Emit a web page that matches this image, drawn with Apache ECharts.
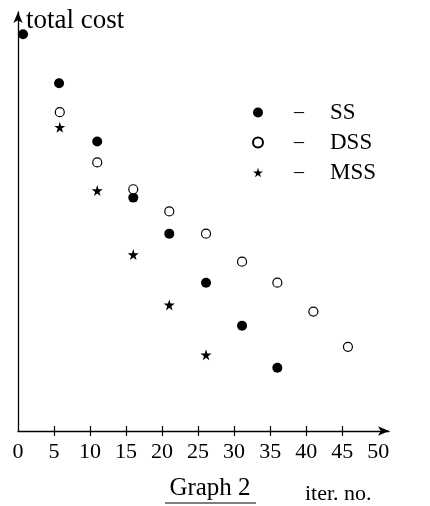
<!DOCTYPE html>
<html>
<head>
<meta charset="utf-8">
<script src="https://cdn.jsdelivr.net/npm/echarts@6/dist/echarts.min.js"></script>
<style>
    html, body {margin: 0; padding: 0; background: #fff;}
    #main1 {width: 430px; height: 506px;}
</style>
</head>
<body>
<div id="main1"></div>
<script>
    // values (cost has no scale, 0..100 along the axis)
    var ssIter = [0.7, 5.7, 11, 16, 21, 26.1, 31.1, 36];
    var ssCost = [94.7, 83.0, 69.1, 55.7, 47.1, 35.4, 25.1, 15.1];
    var dssIter = [5.8, 11, 16, 21, 26.1, 31.1, 36, 41, 45.8];
    var dssCost = [76.1, 64.1, 57.7, 52.4, 47.1, 40.4, 35.4, 28.5, 20.1];
    var mssIter = [5.8, 11, 16, 21, 26.1];
    var mssCost = [72.5, 57.4, 42.1, 30.1, 18.2];
    var xLabels = [0, 5, 10, 15, 20, 25, 30, 35, 40, 45, 50];
    var xTicks = [5, 10, 15, 20, 25, 30, 35, 40, 45];

    var font = '"Liberation Serif", "DejaVu Serif", serif';
    var star = 'path://M50,0 L61,35 L98,35 L68,57 L79,91 L50,70 L21,91 L32,57 L2,35 L39,35 Z';

    function pairs(xs, ys) {
        var out = [];
        for (var i = 0; i < xs.length; i++) {
            out.push([xs[i], ys[i]]);
        }
        return out;
    }

    var myChart = echarts.init(document.getElementById('main1'));

    var option = {
        animation: false,
        grid: {left: 18, right: 41, top: 12, bottom: 75},
        legend: {
            orient: 'vertical',
            left: 247,
            top: 96,
            itemWidth: 10,
            itemHeight: 10,
            itemGap: 7,
            itemTextGap: 5,
            selectedMode: false,
            data: ['SS', 'DSS', 'MSS'],
            formatter: '{d|–}{n|{name}}',
            textStyle: {
                fontFamily: font,
                fontSize: 22,
                color: '#000',
                lineHeight: 20,
                rich: {
                    d: {width: 62, align: 'center', fontFamily: font, fontSize: 20, lineHeight: 20, color: '#000'},
                    n: {fontFamily: font, fontSize: 23, lineHeight: 20, color: '#000'}
                }
            }
        },
        xAxis: [
            {
                type: 'value',
                min: 0,
                max: 51.5,
                interval: 5,
                axisLine: {
                    show: true,
                    symbol: ['none', 'arrow'],
                    symbolSize: [7, 11],
                    lineStyle: {color: '#000', width: 1.3}
                },
                axisTick: {
                    show: true,
                    length: 5,
                    customValues: xTicks,
                    lineStyle: {color: '#000', width: 1.2}
                },
                axisLabel: {
                    show: true,
                    customValues: xLabels,
                    margin: 10,
                    color: '#000',
                    fontFamily: font,
                    fontSize: 22
                },
                splitLine: {show: false}
            },
            {
                type: 'value',
                position: 'bottom',
                min: 0,
                max: 51.5,
                interval: 5,
                axisLine: {show: false},
                axisTick: {
                    show: true,
                    inside: true,
                    length: 5,
                    customValues: xTicks,
                    lineStyle: {color: '#000', width: 1.2}
                },
                axisLabel: {show: false},
                splitLine: {show: false}
            }
        ],
        yAxis: {
            type: 'value',
            min: 0,
            max: 100,
            axisLine: {
                show: true,
                symbol: ['none', 'arrow'],
                symbolSize: [7, 11],
                lineStyle: {color: '#000', width: 1.3}
            },
            axisTick: {show: false},
            axisLabel: {show: false},
            splitLine: {show: false}
        },
        graphic: [
            {
                type: 'text',
                left: 26,
                top: 7,
                style: {text: 'total cost', font: '27px ' + font, fill: '#000'}
            },
            {
                type: 'text',
                x: 210,
                y: 488,
                style: {text: 'Graph 2', font: '25px ' + font, fill: '#000', align: 'center', verticalAlign: 'middle'}
            },
            {
                type: 'line',
                shape: {x1: 165, y1: 503, x2: 256, y2: 503},
                style: {stroke: '#000', lineWidth: 1.2}
            },
            {
                type: 'text',
                x: 305,
                y: 494,
                style: {text: 'iter. no.', font: '22px ' + font, fill: '#000', verticalAlign: 'middle'}
            }
        ],
        series: [
            {
                name: 'SS',
                type: 'scatter',
                symbol: 'circle',
                symbolSize: 10,
                itemStyle: {color: '#000', opacity: 1},
                data: pairs(ssIter, ssCost)
            },
            {
                name: 'DSS',
                type: 'scatter',
                symbol: 'circle',
                symbolSize: 9,
                itemStyle: {color: '#fff', borderColor: '#000', borderWidth: 1.2, opacity: 1},
                data: pairs(dssIter, dssCost)
            },
            {
                name: 'MSS',
                type: 'scatter',
                symbol: star,
                symbolSize: 11,
                itemStyle: {color: '#000', opacity: 1},
                data: pairs(mssIter, mssCost)
            }
        ]
    };
    myChart.setOption(option);

    window.addEventListener("resize", function () {
        myChart.resize();
    });
</script>
</body>
</html>
